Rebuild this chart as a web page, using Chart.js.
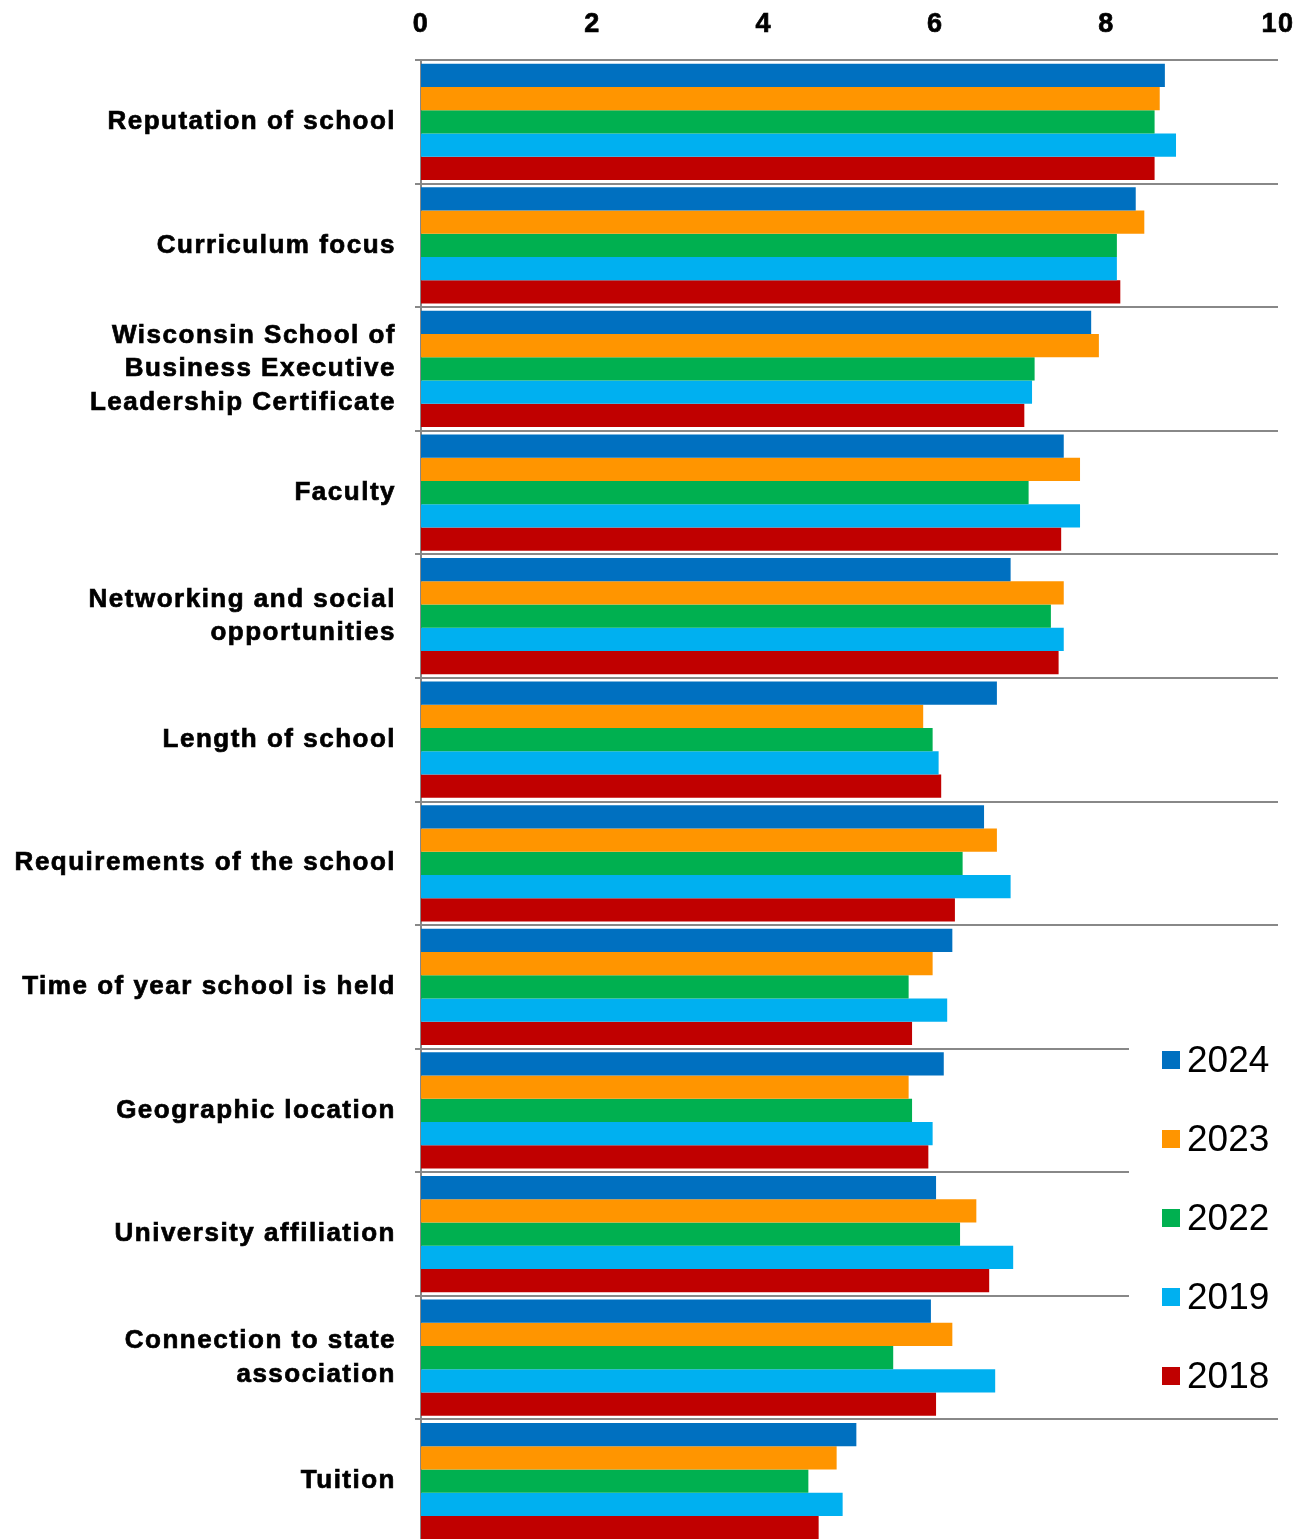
<!DOCTYPE html>
<html>
<head>
<meta charset="utf-8">
<title>School selection factors</title>
<script src="https://cdn.jsdelivr.net/npm/chart.js@4.4.1/dist/chart.umd.min.js"></script>
<style>
  html, body { margin: 0; padding: 0; background: #ffffff; overflow: hidden; }
  #wrap { width: 1305px; height: 1539px; overflow: hidden; }
  canvas { display: block; }
</style>
</head>
<body>
<div id="wrap"><canvas id="chart" width="1305" height="1543"></canvas></div>
<script>
// Rating factors (multi-line labels are arrays of lines)
const categories = [
  'Reputation of school',
  'Curriculum focus',
  ['Wisconsin School of', 'Business Executive', 'Leadership Certificate'],
  'Faculty',
  ['Networking and social', 'opportunities'],
  'Length of school',
  'Requirements of the school',
  'Time of year school is held',
  'Geographic location',
  'University affiliation',
  ['Connection to state', 'association'],
  'Tuition'
];

const seriesLabels = ['2024', '2023', '2022', '2019', '2018'];

const values2024 = [8.68, 8.34, 7.82, 7.50, 6.88, 6.72, 6.57, 6.20, 6.10, 6.01, 5.95, 5.08];
const values2023 = [8.62, 8.44, 7.91, 7.69, 7.50, 5.86, 6.72, 5.97, 5.69, 6.48, 6.20, 4.85];
const values2022 = [8.56, 8.12, 7.16, 7.09, 7.35, 5.97, 6.32, 5.69, 5.73, 6.29, 5.51, 4.52];
const values2019 = [8.81, 8.12, 7.13, 7.69, 7.50, 6.04, 6.88, 6.14, 5.97, 6.91, 6.70, 4.92];
const values2018 = [8.56, 8.16, 7.04, 7.47, 7.44, 6.07, 6.23, 5.73, 5.92, 6.63, 6.01, 4.64];

const xTickValues = [0, 2, 4, 6, 8, 10];

const seriesColors = ['#0070C0', '#FF9500', '#00B050', '#00B0F0', '#C00000'];
const seriesValues = [values2024, values2023, values2022, values2019, values2018];

const FONT = '"Liberation Sans", Arial, Helvetica, sans-serif';
const GRID = '#888888';

// Slightly spaced lettering for the axis text
const letterSpacingPlugin = {
  id: 'letterSpacing',
  beforeLayout(chart) { chart.ctx.letterSpacing = '1.5px'; },
  beforeDraw(chart) { chart.ctx.letterSpacing = '1.5px'; }
};

// Scales keep no extra edge padding for their end labels
function noEdgePadding(scale) {
  scale.paddingTop = 0;
  scale.paddingBottom = 0;
  scale.paddingLeft = 0;
  scale.paddingRight = 0;
}

// Legend box at the lower right, drawn over the chart area
const yearLegend = {
  id: 'yearLegend',
  afterDraw(chart) {
    const ctx = chart.ctx;
    ctx.save();
    ctx.letterSpacing = '0px';
    ctx.fillStyle = '#ffffff';
    ctx.fillRect(1129, 1030, 176, 382);
    ctx.font = '37px ' + FONT;
    ctx.textBaseline = 'middle';
    ctx.textAlign = 'left';
    chart.data.datasets.forEach((ds, i) => {
      const cy = 1060 + i * 79;
      ctx.fillStyle = ds.backgroundColor;
      ctx.fillRect(1162, cy - 9, 18, 18);
      ctx.fillStyle = '#000000';
      ctx.fillText(ds.label, 1187, cy + 2);
    });
    ctx.restore();
  }
};

new Chart(document.getElementById('chart'), {
  type: 'bar',
  data: {
    labels: categories,
    datasets: seriesLabels.map((label, i) => ({
      label: label,
      data: seriesValues[i],
      backgroundColor: seriesColors[i],
      borderWidth: 0,
      categoryPercentage: 0.94,
      barPercentage: 1.0
    }))
  },
  options: {
    indexAxis: 'y',
    responsive: false,
    animation: false,
    events: [],
    layout: { autoPadding: false, padding: { top: 0, right: 27, bottom: 0, left: 0 } },
    plugins: {
      legend: { display: false },
      tooltip: { enabled: false }
    },
    scales: {
      x: {
        position: 'top',
        min: 0,
        max: 10,
        afterBuildTicks(scale) {
          scale.ticks = xTickValues.map(v => ({ value: v }));
        },
        afterFit(scale) { scale.height = 60; noEdgePadding(scale); },
        grid: { display: false, drawTicks: false },
        border: { display: false },
        ticks: {
          padding: 19,
          color: '#000000',
          textStrokeColor: '#000000',
          textStrokeWidth: 0.7,
          font: { family: FONT, size: 27, weight: 'bold' }
        }
      },
      y: {
        position: 'left',
        afterFit(scale) { scale.width = 421; noEdgePadding(scale); },
        grid: {
          offset: true,
          color: GRID,
          lineWidth: 2,
          drawTicks: true,
          tickLength: 6,
          tickColor: GRID,
          tickWidth: 2
        },
        border: { display: true, color: GRID, width: 2 },
        ticks: {
          padding: 19,
          color: '#000000',
          textStrokeColor: '#000000',
          textStrokeWidth: 0.7,
          font: { family: FONT, size: 26, weight: 'bold', lineHeight: 1.29 }
        }
      }
    }
  },
  plugins: [letterSpacingPlugin, yearLegend]
});
</script>
</body>
</html>
